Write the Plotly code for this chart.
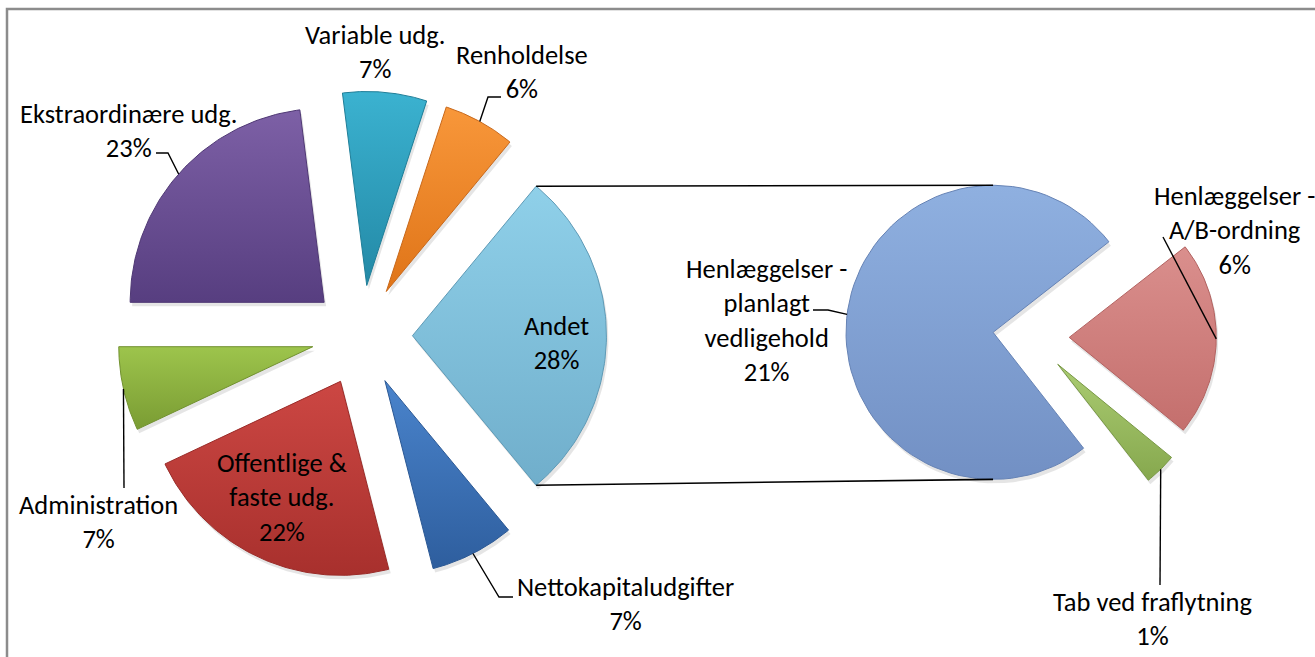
import numpy as np
import plotly.graph_objects as go

# ---------------- data ----------------
main_labels = ["Nettokapitaludgifter", "Offentlige & faste udg.", "Administration",
               "Ekstraordinære udg.", "Variable udg.", "Renholdelse"]
main_values = [7, 22, 7, 23, 7, 6]
sub_labels = ["Henlæggelser - planlagt vedligehold", "Henlæggelser - A/B-ordning",
              "Tab ved fraflytning"]
sub_values = [21, 6, 1]
other_label = "Andet"

# ---------------- style / layout ----------------
W, H = 1315, 657
FONT = "Carlito, Calibri, Lato, sans-serif"
FS = 26.5

main_colors = {  # (top, bottom) gradient
    "Nettokapitaludgifter": ("#4A84CC", "#2E5E9E"),
    "Offentlige & faste udg.": ("#CC4743", "#A8302D"),
    "Administration": ("#9DC44C", "#7A9C33"),
    "Ekstraordinære udg.": ("#7D60A6", "#573E80"),
    "Variable udg.": ("#3BB2D0", "#2389A6"),
    "Renholdelse": ("#F8973A", "#DF7418"),
    "Andet": ("#8FD0E9", "#70AECB"),
}
sub_colors = {
    "Henlæggelser - planlagt vedligehold": ("#8FB0E0", "#7290C4"),
    "Henlæggelser - A/B-ordning": ("#DA8F8D", "#C46F6D"),
    "Tab ved fraflytning": ("#ABCC72", "#86A84E"),
}
edge_colors = {
    "Nettokapitaludgifter": "#2B5894", "Offentlige & faste udg.": "#9A2B28",
    "Administration": "#71912F", "Ekstraordinære udg.": "#4F3874",
    "Variable udg.": "#1F7E98", "Renholdelse": "#C8681A", "Andet": "#5E9AB6",
    "Henlæggelser - planlagt vedligehold": "#6683B5",
    "Henlæggelser - A/B-ordning": "#B26260", "Tab ved fraflytning": "#789845",
}

# pie geometry (pixels, y downwards)
C1 = (362.0, 335.7)
R1 = 194.0
C2 = (1031.0, 337.0)
R2 = R1 * 0.758
EXPLODE = 0.26
SUB_START = -52.0  # degrees, start of second pie (clockwise)

# text wrapping and label centres
wrap = {
    "Offentlige & faste udg.": ["Offentlige &", "faste udg."],
    "Henlæggelser - planlagt vedligehold": ["Henlæggelser -", "planlagt", "vedligehold"],
    "Henlæggelser - A/B-ordning": ["Henlæggelser -", "A/B-ordning"],
}
label_pos = {
    "Variable udg.": (375, 51.5),
    "Renholdelse": (522, 71.5),
    "Ekstraordinære udg.": (128, 131),
    "Administration": (98, 521.5),
    "Offentlige & faste udg.": (282, 497),
    "Nettokapitaludgifter": (625, 604),
    "Andet": (556, 343),
    "Henlæggelser - planlagt vedligehold": (766, 320.5),
    "Henlæggelser - A/B-ordning": (1234, 230.5),
    "Tab ved fraflytning": (1153, 619),
}
# leader line elbows (from slice arc midpoint to label)
leader_pts = {
    "Renholdelse": [(488, 97), (501, 97)],
    "Ekstraordinære udg.": [(168, 153), (156, 153)],
    "Administration": [(124, 488)],
    "Nettokapitaludgifter": [(499, 597), (513, 597)],
    "Henlæggelser - planlagt vedligehold": [(828, 310), (813, 310)],
    "Henlæggelser - A/B-ordning": [(1163, 237)],
    "Tab ved fraflytning": [(1160, 585)],
}


def wedge(cx, cy, r, a0, a1, n=80):
    """a0 > a1 (clockwise), degrees; returns closed polygon in screen coords"""
    t = np.radians(np.linspace(a0, a1, n))
    xs = np.concatenate([[cx], cx + r * np.cos(t), [cx]])
    ys = np.concatenate([[cy], cy - r * np.sin(t), [cy]])
    return xs, ys


def layout_pie(center, radius, labels, values, start):
    total = sum(values)
    out = {}
    a = start
    for lab, v in zip(labels, values):
        span = 360.0 * v / total
        a0, a1 = a, a - span
        mid = np.radians((a0 + a1) / 2)
        d = EXPLODE * radius
        apex = (center[0] + d * np.cos(mid), center[1] - d * np.sin(mid))
        out[lab] = dict(a0=a0, a1=a1, apex=apex, mid=mid, r=radius, v=v)
        a = a1
    return out


other_value = sum(sub_values)
all_main_labels = main_labels + [other_label]
all_main_values = main_values + [other_value]
grand_total = sum(all_main_values)
main_start = -180.0 * other_value / grand_total
main_geo = layout_pie(C1, R1, all_main_labels, all_main_values, main_start)
sub_geo = layout_pie(C2, R2, sub_labels, sub_values, SUB_START)

fig = go.Figure()


def add_slice(lab, g, cols):
    xs, ys = wedge(g["apex"][0], g["apex"][1], g["r"], g["a0"], g["a1"])
    # soft shadow
    fig.add_trace(go.Scatter(x=xs + 2, y=ys + 4, mode="lines", fill="toself",
                             fillcolor="rgba(0,0,0,0.10)", line=dict(width=0),
                             hoverinfo="skip", showlegend=False))
    fig.add_trace(go.Scatter(
        x=xs, y=ys, mode="lines", fill="toself",
        fillgradient=dict(type="vertical",
                          colorscale=[[0, cols[1]], [1, cols[0]]]),
        line=dict(color=edge_colors[lab], width=1),
        name=lab, hoverinfo="name", showlegend=False))


for lab in all_main_labels:
    add_slice(lab, main_geo[lab], main_colors[lab])
for lab in sub_labels:
    add_slice(lab, sub_geo[lab], sub_colors[lab])

# connector lines between the "Andet" slice and the second pie
ga = main_geo[other_label]
gb = sub_geo[sub_labels[0]]
for ang, sgn in ((ga["a0"], -1), (ga["a1"], 1)):
    p0 = (ga["apex"][0] + R1 * np.cos(np.radians(ang)),
          ga["apex"][1] - R1 * np.sin(np.radians(ang)))
    p1 = (gb["apex"][0], gb["apex"][1] + sgn * R2)
    fig.add_trace(go.Scatter(x=[p0[0], p1[0]], y=[p0[1], p1[1]], mode="lines",
                             line=dict(color="black", width=1.6),
                             hoverinfo="skip", showlegend=False))

# leader lines
geo_all = {**main_geo, **sub_geo}
for lab, pts in leader_pts.items():
    g = geo_all[lab]
    mx = g["apex"][0] + g["r"] * np.cos(g["mid"])
    my = g["apex"][1] - g["r"] * np.sin(g["mid"])
    xs = [mx] + [p[0] for p in pts]
    ys = [my] + [p[1] for p in pts]
    fig.add_trace(go.Scatter(x=xs, y=ys, mode="lines",
                             line=dict(color="black", width=1.4),
                             hoverinfo="skip", showlegend=False))

# labels
for lab, (x, y) in label_pos.items():
    v = geo_all[lab]["v"]
    lines = wrap.get(lab, [lab]) + [f"{round(100 * v / grand_total)}%"]
    fig.add_annotation(x=x, y=y, xref="x", yref="y", text="<br>".join(lines),
                       showarrow=False, xanchor="center", yanchor="middle",
                       align="center", font=dict(family=FONT, size=FS, color="black"))

# chart border
fig.add_shape(type="rect", xref="x", yref="y", x0=7, y0=9, x1=W + 20, y1=H + 20,
              line=dict(color="#8C8C8C", width=2.5), layer="below")

fig.update_layout(
    width=W, height=H,
    margin=dict(l=0, r=0, t=0, b=0),
    paper_bgcolor="white", plot_bgcolor="white", showlegend=False,
    hovermode=False,
    xaxis=dict(range=[0, W], visible=False, fixedrange=True),
    yaxis=dict(range=[H, 0], visible=False, fixedrange=True),
)
fig.write_html(
    "out.html",
    config={"displayModeBar": False, "staticPlot": True},
    post_script="document.body.style.margin='0';document.body.style.overflow='hidden';",
)
